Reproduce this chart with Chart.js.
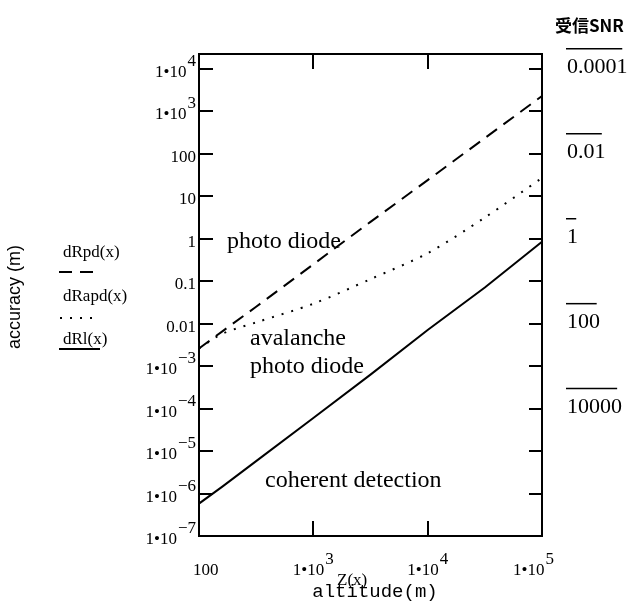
<!DOCTYPE html>
<html>
<head>
<meta charset="utf-8">
<script src="https://cdn.jsdelivr.net/npm/chart.js@4.4.1/dist/chart.umd.min.js"></script>
<style>
  body { margin: 0; background: #fff; }
  #wrap { width: 631px; height: 604px; }
</style>
</head>
<body>
<div id="wrap"><canvas id="canvas" width="631" height="604"></canvas></div>
<script>
// altitude Z(x) in m
var altitude = [100, 160, 316, 1000, 3162, 10000, 31623, 100000];
// accuracy (m)
var dRpd  = [2.6e-3, 6.6e-3, 0.025, 0.25, 2.5, 24, 234, 2300];
var dRapd = [2.6e-3, 5.8e-3, 0.0107, 0.0295, 0.112, 0.457, 3.16, 27];
var dRl   = [5.8e-7, 1.45e-6, 5.8e-6, 6.0e-5, 6.3e-4, 7.1e-3, 0.071, 0.85];

var yTickValues = [1e-7, 1e-6, 1e-5, 1e-4, 1e-3, 1e-2, 1e-1, 1, 10, 100, 1e3, 1e4];
var yTickLabels = ['1•10^−7', '1•10^−6', '1•10^−5', '1•10^−4', '1•10^−3', '0.01', '0.1', '1', '10', '100', '1•10^3', '1•10^4'];
var xTickValues = [100, 1e3, 1e4, 1e5];
var xTickLabels = ['100', '1•10^3', '1•10^4', '1•10^5'];
// 受信SNR column on the right (placed at accuracy = 1/SNR)
var snrValues = [0.0001, 0.01, 1, 100, 10000];
var snrLabels = ['0.0001', '0.01', '1', '100', '10000'];

function pts(ys) {
  var out = [];
  for (var i = 0; i < altitude.length; i++) out.push({x: altitude[i], y: ys[i]});
  return out;
}

var SERIF = '"Liberation Serif", "Times New Roman", serif';

function labelWidth(ctx, txt, size) {
  var parts = txt.split('^');
  ctx.font = size + 'px ' + SERIF;
  var w = ctx.measureText(parts[0]).width;
  if (parts[1]) { ctx.font = size + 'px ' + SERIF; w += ctx.measureText(parts[1]).width + 1; }
  return w;
}
function drawLabel(ctx, txt, left, base, size) {
  var parts = txt.split('^');
  ctx.textAlign = 'left';
  ctx.textBaseline = 'alphabetic';
  ctx.font = size + 'px ' + SERIF;
  ctx.fillText(parts[0], left, base);
  if (parts[1]) {
    var w = ctx.measureText(parts[0]).width;
    ctx.fillText(parts[1], left + w + 1, base - 11);
  }
}

var decor = {
  id: 'decor',
  afterDraw: function (chart) {
    var ctx = chart.ctx, a = chart.chartArea, xs = chart.scales.x, ys = chart.scales.y;
    ctx.save();
    ctx.fillStyle = '#000';
    ctx.strokeStyle = '#000';

    // frame
    ctx.lineWidth = 2;
    ctx.strokeRect(a.left, a.top, a.right - a.left, a.bottom - a.top);

    // inward ticks
    ctx.beginPath();
    yTickValues.forEach(function (v) {
      var py = Math.round(ys.getPixelForValue(v));
      ctx.moveTo(a.left, py); ctx.lineTo(a.left + 14, py);
      ctx.moveTo(a.right - 13, py); ctx.lineTo(a.right, py);
    });
    xTickValues.forEach(function (v) {
      var px = Math.round(xs.getPixelForValue(v));
      ctx.moveTo(px, a.bottom); ctx.lineTo(px, a.bottom - 15);
      ctx.moveTo(px, a.top); ctx.lineTo(px, a.top + 15);
    });
    ctx.stroke();

    // y tick labels
    yTickValues.forEach(function (v, i) {
      var py = ys.getPixelForValue(v);
      var w = labelWidth(ctx, yTickLabels[i], 17);
      drawLabel(ctx, yTickLabels[i], 196 - w, py + 8, 17);
    });
    // x tick labels
    xTickValues.forEach(function (v, i) {
      var px = xs.getPixelForValue(v);
      var w = labelWidth(ctx, xTickLabels[i], 17);
      var left = Math.max(193, Math.min(554 - w, px - w / 2));
      drawLabel(ctx, xTickLabels[i], left, 575, 17);
    });

    // right SNR column
    ctx.font = 'bold 17px "Noto Sans CJK JP", sans-serif';
    ctx.textAlign = 'left';
    ctx.fillText('受信SNR', 555, 32);
    ctx.lineWidth = 1.5;
    snrValues.forEach(function (s, i) {
      var py = ys.getPixelForValue(1 / s);
      ctx.font = '22px ' + SERIF;
      var w = ctx.measureText(snrLabels[i]).width;
      ctx.fillText(snrLabels[i], 567, py + 4);
      ctx.beginPath();
      ctx.moveTo(566, py - 20); ctx.lineTo(566 + w * 0.93, py - 20);
      ctx.stroke();
    });

    // curve annotations
    ctx.font = '24px ' + SERIF;
    ctx.fillText('photo diode', 227, 248);
    ctx.fillText('avalanche', 250, 345);
    ctx.fillText('photo diode', 250, 373);
    ctx.fillText('coherent detection', 265, 487);

    // legend on the left
    ctx.font = '17px ' + SERIF;
    ctx.fillText('dRpd(x)', 63, 257);
    ctx.fillText('dRapd(x)', 63, 301);
    ctx.fillText('dRl(x)', 63, 344);
    ctx.lineWidth = 1.8;
    ctx.setLineDash([13, 8]);
    ctx.beginPath(); ctx.moveTo(59, 272); ctx.lineTo(99, 272); ctx.stroke();
    ctx.setLineDash([2, 8]);
    ctx.beginPath(); ctx.moveTo(60, 318); ctx.lineTo(99, 318); ctx.stroke();
    ctx.setLineDash([]);
    ctx.beginPath(); ctx.moveTo(59, 349); ctx.lineTo(100, 349); ctx.stroke();

    // axis titles
    ctx.font = '17px ' + SERIF;
    ctx.fillText('Z(x)', 337, 585);
    ctx.font = '19px "Liberation Mono", monospace';
    ctx.textAlign = 'center';
    ctx.fillText('altitude(m)', 375, 597);
    ctx.save();
    ctx.translate(20, 297);
    ctx.rotate(-Math.PI / 2);
    ctx.font = '18px "Liberation Sans", Arial, sans-serif';
    ctx.fillText('accuracy (m)', 0, 0);
    ctx.restore();

    ctx.restore();
  }
};

new Chart(document.getElementById('canvas'), {
  type: 'line',
  data: {
    datasets: [
      { label: 'dRpd(x)', data: pts(dRpd), borderColor: '#000', borderWidth: 2, borderDash: [13, 8], pointRadius: 0, tension: 0 },
      { label: 'dRapd(x)', data: pts(dRapd), borderColor: '#000', borderWidth: 2, borderDash: [2, 8], pointRadius: 0, tension: 0.3 },
      { label: 'dRl(x)', data: pts(dRl), borderColor: '#000', borderWidth: 2, pointRadius: 0, tension: 0 }
    ]
  },
  options: {
    responsive: false,
    animation: false,
    layout: { padding: { left: 199, top: 54, right: 89, bottom: 68 } },
    plugins: { legend: { display: false }, tooltip: { enabled: false } },
    scales: {
      x: { type: 'logarithmic', min: 100, max: 100000, display: false },
      y: { type: 'logarithmic', min: 1e-7, max: 22400, display: false }
    }
  },
  plugins: [decor]
});
</script>
</body>
</html>
